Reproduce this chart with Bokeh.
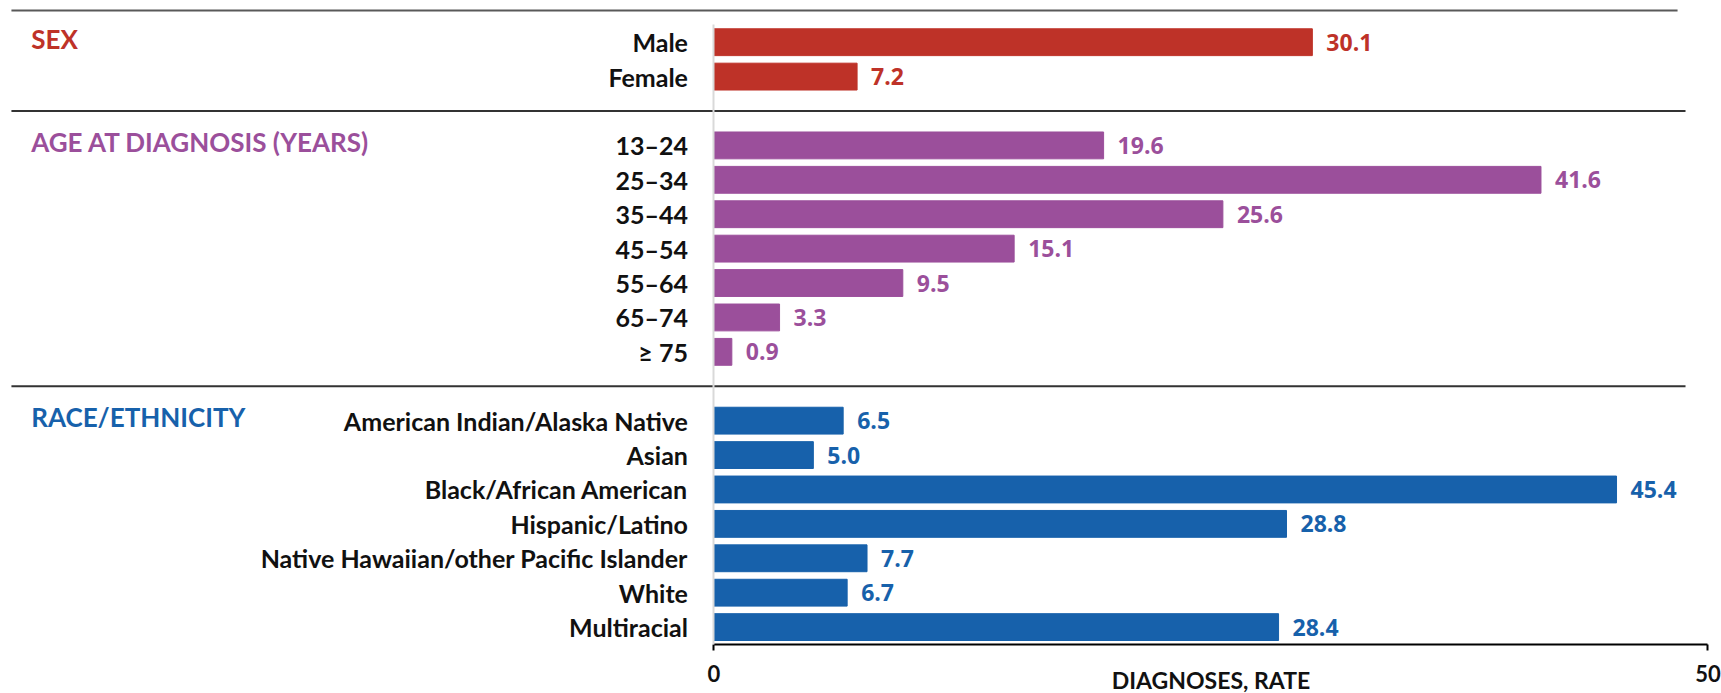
from bokeh.plotting import figure
from bokeh.models import Range1d, LinearAxis, FixedTicker, ColumnDataSource
from bokeh.core.properties import value
from bokeh.embed import file_html
from bokeh.resources import INLINE

# ---- data ----
group_titles = ["SEX", "AGE AT DIAGNOSIS (YEARS)", "RACE/ETHNICITY"]
group_colors = ["#BE3228", "#9B4F9B", "#1761AB"]

sex_labels = ["Male", "Female"]
sex_values = [30.1, 7.2]

age_labels = ["13–24", "25–34", "35–44", "45–54", "55–64", "65–74", "≥ 75"]
age_values = [19.6, 41.6, 25.6, 15.1, 9.5, 3.3, 0.9]

race_labels = ["American Indian/Alaska Native", "Asian", "Black/African American",
               "Hispanic/Latino", "Native Hawaiian/other Pacific Islander",
               "White", "Multiracial"]
race_values = [6.5, 5.0, 45.4, 28.8, 7.7, 6.7, 28.4]

x_ticks = [0, 50]
x_title = "DIAGNOSES, RATE"

groups = [(sex_labels, sex_values), (age_labels, age_values), (race_labels, race_values)]

# ---- layout of slots ----
ys, vals, labs, cols = [], [], [], []
title_y, sep_y = [], []
slot = 0
for gi, (lbls, vls) in enumerate(groups):
    if gi > 0:
        sep_y.append(slot)
        slot += 1
    title_y.append(slot - 0.1)
    for l, v in zip(lbls, vls):
        ys.append(slot)
        vals.append(v)
        labs.append(l)
        cols.append(group_colors[gi])
        slot += 1
y_axis_pos = slot - 0.5

W, H = 1721, 693
x_start, x_end = -35.886, 50.68
y_top, y_bot = -1.212, 18.93

p = figure(width=W, height=H, output_backend="svg", toolbar_location=None,
           x_range=Range1d(x_start, x_end), y_range=Range1d(y_bot, y_top),
           x_axis_location=None, y_axis_location=None,
           min_border_left=0, min_border_right=0, min_border_top=0, min_border_bottom=0)
p.outline_line_color = None
p.grid.visible = False
p.background_fill_color = "white"

src = ColumnDataSource(dict(y=ys, v=vals, lab=labs, c=cols,
                            txt=[f"{v:.1f}" for v in vals]))

# vertical baseline + category labels via y axis fixed at x=0
yaxis = LinearAxis(fixed_location=0, ticker=FixedTicker(ticks=ys),
                   major_label_overrides={float(y): l for y, l in zip(ys, labs)},
                   bounds=(-0.5, y_axis_pos))
yaxis.axis_line_color = "#D9D9D9"
yaxis.axis_line_width = 2
yaxis.major_tick_line_color = None
yaxis.minor_tick_line_color = None
yaxis.major_tick_out = 0
yaxis.major_tick_in = 0
yaxis.major_label_standoff = 26
yaxis.major_label_text_font = "Lato"
yaxis.major_label_text_font_style = "bold"
yaxis.major_label_text_font_size = "25px"
yaxis.major_label_text_color = "#111111"
p.add_layout(yaxis, "left")

p.hbar(y="y", left=0, right="v", height=0.78, color="c", source=src)

p.text(x="v", y="y", text="txt", text_color="c", source=src,
       x_offset=14, text_align="left", text_baseline="middle",
       text_font=value("Open Sans"), text_font_style="bold", text_font_size="23px")

# group titles
p.text(x=[x_start + 1.545] * 3, y=title_y, text=group_titles, text_color=group_colors,
       text_align="left", text_baseline="middle",
       text_font=value("Lato"), text_font_style="bold", text_font_size="26px")

# horizontal rules
p.segment(x0=[x_start + 0.55], x1=[48.47], y0=[-0.92], y1=[-0.92],
          line_color="#595959", line_width=2)
p.segment(x0=[x_start + 0.55] * len(sep_y), x1=[48.87] * len(sep_y), y0=sep_y, y1=sep_y,
          line_color="#333333", line_width=2)

# x axis fixed at the bottom of the bars
xaxis = LinearAxis(fixed_location=y_axis_pos, ticker=FixedTicker(ticks=x_ticks),
                   bounds=(x_ticks[0], x_ticks[-1]))
xaxis.axis_line_color = "black"
xaxis.axis_line_width = 2
xaxis.major_tick_line_color = "black"
xaxis.major_tick_line_width = 2
xaxis.major_tick_in = 0
xaxis.major_tick_out = 6
xaxis.minor_tick_line_color = None
xaxis.major_label_standoff = 15
xaxis.major_label_text_font = "Lato"
xaxis.major_label_text_font_style = "bold"
xaxis.major_label_text_font_size = "22px"
xaxis.major_label_text_color = "#111111"
p.add_layout(xaxis, "below")

# axis title centred under the 0–50 span
p.text(x=[(x_ticks[0] + x_ticks[-1]) / 2], y=[y_axis_pos + 1.05], text=[x_title],
       text_align="center", text_baseline="middle", text_color="#111111",
       text_font=value("Lato"), text_font_style="bold", text_font_size="23px")

open("out.html", "w").write(file_html(p, INLINE))
